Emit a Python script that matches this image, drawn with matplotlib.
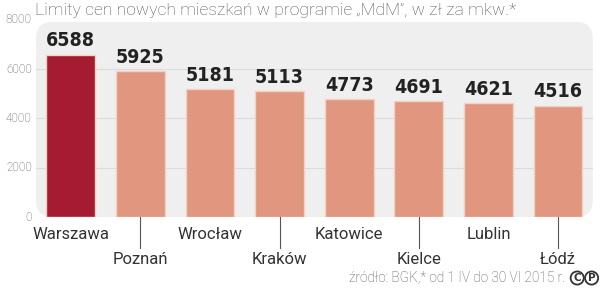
import matplotlib.pyplot as plt
from matplotlib.patches import FancyBboxPatch

cities = ['Warszawa', 'Poznań', 'Wrocław', 'Kraków', 'Katowice', 'Kielce', 'Lublin', 'Łódź']
values = [6588, 5925, 5181, 5113, 4773, 4691, 4621, 4516]
yticks = [0, 2000, 4000, 6000, 8000]

fig = plt.figure(figsize=(6, 2.89), dpi=100)
ax = fig.add_axes([0.06, 0.249, 0.928, 0.682])
ax.set_xlim(-0.5, 7.5)
ax.set_ylim(0, 8000)
ax.axis('off')

# rounded grey panel
panel = FancyBboxPatch((0, 0), 1, 0.99, boxstyle='round,pad=0,rounding_size=0.03',
                       transform=ax.transAxes, fc='#efefef', ec='none', zorder=0,
                       mutation_aspect=557 / 195)
ax.add_patch(panel)
for t in yticks[1:-1]:
    ax.axhline(t, color='#dcdcdc', lw=0.8, zorder=1)
for t in yticks:
    ax.text(-0.56, t, str(t), ha='right', va='center', fontsize=8.5,
            color='#555555', family='Roboto', fontweight='light')

colors = ['#a51b31'] + ['#e0967f'] * 7
x = range(len(cities))
ax.bar(x, values, width=0.7, color=colors, edgecolor='#f3d2c6', linewidth=1.0, zorder=2)

for i, v in enumerate(values):
    ax.text(i, v + 180, str(v), ha='center', va='bottom', fontsize=14,
            fontweight='bold', fontstretch='condensed', family='DejaVu Sans',
            color='#222222')
    if i % 2 == 0:
        ax.text(i, -400, cities[i], ha='center', va='top', fontsize=12,
                color='#333333', family='Roboto', clip_on=False)
    else:
        ax.plot([i, i], [0, -1250], color='#555555', lw=0.8, clip_on=False)
        ax.text(i, -1400, cities[i], ha='center', va='top', fontsize=12,
                color='#333333', family='Roboto', clip_on=False)

fig.text(0.058, 0.965, 'Limity cen nowych mieszkań w programie „MdM”, w zł za mkw.*',
         ha='left', va='center', fontsize=12.6, color='#555555', family='Roboto',
         fontweight='light')
fig.text(0.942, 0.038, 'źródło: BGK,* od 1 IV do 30 VI 2015 r.', ha='right', va='center',
         fontsize=9.8, color='#555555', family='Roboto', fontweight='light')
for cx, letter in [(0.962, 'C'), (0.986, 'P')]:
    fig.text(cx, 0.038, letter, ha='center', va='center', fontsize=7.5, fontweight='bold',
             color='#333333', family='DejaVu Sans',
             bbox=dict(boxstyle='circle,pad=0.15', fc='white', ec='#333333', lw=1.3))

fig.savefig('out.png', dpi=100)
